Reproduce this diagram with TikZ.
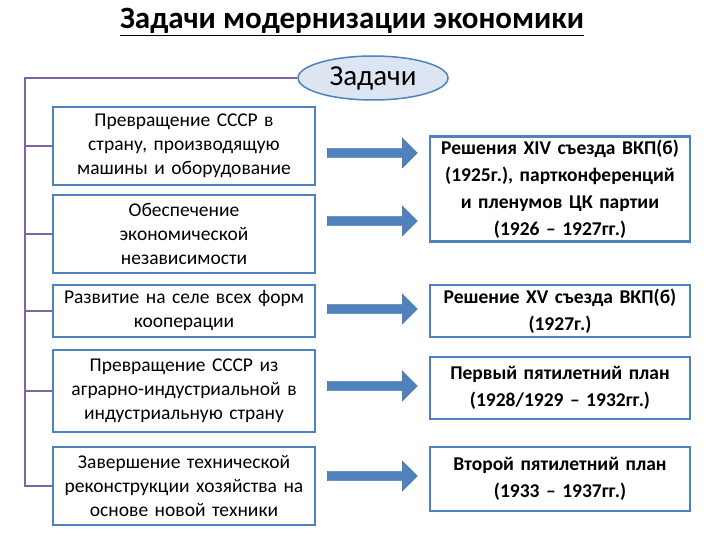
\documentclass[tikz,border=0pt]{standalone}
\usepackage{fontspec}
\setmainfont{Carlito}
\usetikzlibrary{shapes.arrows,shapes.geometric}
\definecolor{bl}{HTML}{4F81BD}
\definecolor{pu}{HTML}{8064A2}
\definecolor{lb}{HTML}{DCE6F2}
\begin{document}
\begin{tikzpicture}[x=1pt,y=-1pt,
 lbox/.style={draw=bl,line width=2.5pt,fill=white,minimum width=262pt,align=center,font=\fontsize{19.5}{24}\selectfont,text width=258pt,inner xsep=1pt},
 rbox/.style={draw=bl,line width=2.5pt,fill=white,minimum width=260pt,align=center,font=\fontsize{19.5}{27}\selectfont\bfseries,text width=256pt,inner xsep=1pt},
 arr/.style={single arrow,draw=bl!80!black,fill=bl,minimum height=90pt,minimum width=30pt,single arrow head extend=7pt,inner sep=3pt},
 br/.style={draw=pu,line width=2.5pt}]
\useasboundingbox (0,0) rectangle (720,540);
\node[font=\fontsize{31}{34}\selectfont\bfseries] (t) at (352,22) {\underline{Задачи модернизации экономики}};
\node[ellipse,draw=bl,line width=1.5pt,fill=lb,minimum width=150pt,minimum height=44pt,inner sep=1pt,font=\fontsize{29}{30}\selectfont] (e) at (373,78) {Задачи};
\node[lbox,minimum height=78pt] (l1) at (184,146) {Превращение СССР в\\страну, производящую\\машины и оборудование};
\node[lbox,minimum height=78pt] (l2) at (184,234) {Обеспечение\\экономической\\независимости};
\node[lbox,minimum height=52pt] (l3) at (184,311) {Развитие на селе всех форм\\кооперации};
\node[lbox,minimum height=82pt] (l4) at (184,391) {Превращение СССР из\\аграрно-индустриальной в\\индустриальную страну};
\node[lbox,minimum height=78pt] (l5) at (184,486) {Завершение технической\\реконструкции хозяйства на\\основе новой техники};
\node[rbox,minimum height=105pt] (r1) at (560,189) {Решения XIV съезда ВКП(б)\\(1925г.), партконференций\\и пленумов ЦК партии\\(1926 – 1927гг.)};
\node[rbox,minimum height=52pt] (r2) at (560,311) {Решение XV съезда ВКП(б)\\(1927г.)};
\node[rbox,minimum height=62pt] (r3) at (560,388) {Первый пятилетний план\\(1928/1929 – 1932гг.)};
\node[rbox,minimum height=64pt] (r4) at (560,479) {Второй пятилетний план\\(1933 – 1937гг.)};
\node[arr] (a1) at (370,153) {};
\node[arr] (a2) at (370,221) {};
\node[arr] (a3) at (370,309) {};
\node[arr] (a4) at (370,386) {};
\node[arr] (a5) at (370,476) {};
\coordinate (c0) at (25,78);
\draw[br] (e.west) -- (c0) -- (c0 |- l5.west) -- (l5.west);
\foreach \n in {l1,l2,l3,l4} \draw[br] (c0 |- \n.west) -- (\n.west);
\end{tikzpicture}
\end{document}
